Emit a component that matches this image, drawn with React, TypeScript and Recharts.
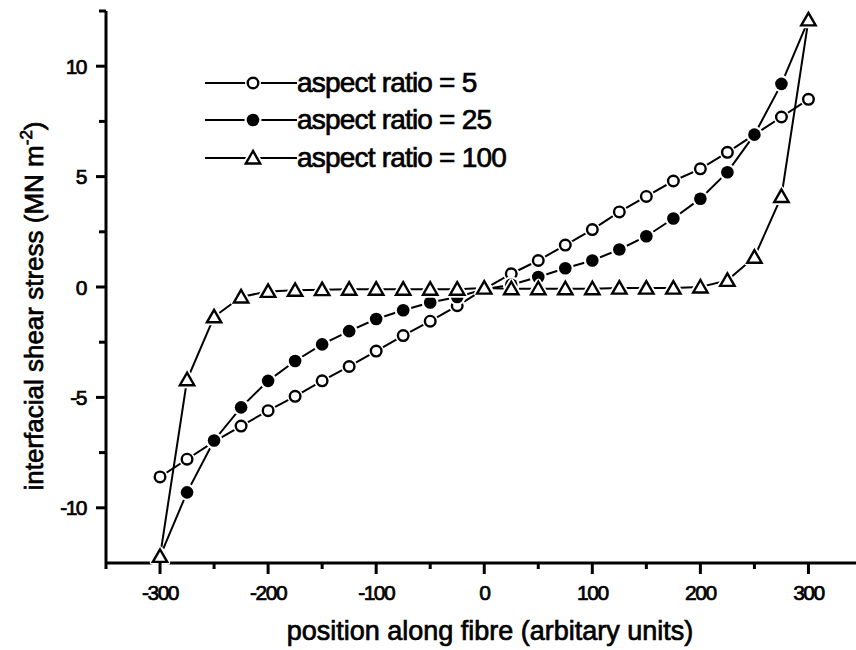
import React from "react"
import { LineChart, Line, XAxis, YAxis, Legend, Label } from "recharts"

// ── data ────────────────────────────────────────────────────
const positions = [
  -300, -275, -250, -225, -200, -175, -150, -125, -100, -75, -50, -25, 0,
  25, 50, 75, 100, 125, 150, 175, 200, 225, 250, 275, 300,
]
const ar5 = [
  -8.6, -7.8, -7.0, -6.3, -5.6, -4.95, -4.25, -3.6, -2.9, -2.2, -1.55, -0.85, -0.1,
  0.6, 1.2, 1.9, 2.6, 3.4, 4.1, 4.8, 5.35, 6.1, 6.9, 7.7, 8.5,
]
const ar25 = [
  -12.2, -9.3, -6.95, -5.45, -4.25, -3.35, -2.6, -2.0, -1.45, -1.05, -0.7, -0.45, -0.1,
  0.1, 0.45, 0.85, 1.2, 1.7, 2.3, 3.1, 4.0, 5.2, 6.9, 9.2, 12.1,
]
const ar100 = [
  -12.2, -4.2, -1.35, -0.45, -0.2, -0.15, -0.12, -0.1, -0.1, -0.1, -0.1, -0.1, -0.05,
  -0.08, -0.08, -0.08, -0.08, -0.05, -0.05, -0.05, 0.0, 0.3, 1.35, 4.1, 12.1,
]

const xMajorTicks = [-300, -200, -100, 0, 100, 200, 300]
const xMinorTicks = [-350, -250, -150, -50, 50, 150, 250]
const yMajorTicks = [-10, -5, 0, 5, 10]
const yMinorTicks = [-7.5, -2.5, 2.5, 7.5, 12.5]

const seriesList = [
  { key: "ar5", label: "aspect ratio = 5", marker: "open" },
  { key: "ar25", label: "aspect ratio = 25", marker: "filled" },
  { key: "ar100", label: "aspect ratio = 100", marker: "triangle" },
]

const data = positions.map((x, i) => ({
  x,
  ar5: ar5[i],
  ar25: ar25[i],
  ar100: ar100[i],
}))

const FONT = "'Liberation Sans', Arial, Helvetica, sans-serif"
// scanned text looks heavy, thicken glyphs a little without widening them
const heavy = { stroke: "#000", strokeWidth: 0.7 }

// ─── markers ────────────────────────────────────────────────
function Marker({ cx, cy, kind }: { cx: number; cy: number; kind: string }) {
  if (cx == null || cy == null) return null
  if (kind === "open") {
    return (
      <g>
        <circle cx={cx} cy={cy} r={8} fill="#fff" />
        <circle cx={cx} cy={cy} r={5.3} fill="#fff" stroke="#000" strokeWidth={2.4} />
      </g>
    )
  }
  if (kind === "filled") {
    return (
      <g>
        <circle cx={cx} cy={cy} r={8.5} fill="#fff" />
        <circle cx={cx} cy={cy} r={6.3} fill="#000" />
      </g>
    )
  }
  const pts = `${cx},${cy - 7} ${cx - 7.2},${cy + 5.5} ${cx + 7.2},${cy + 5.5}`
  return (
    <g>
      <polygon points={pts} fill="#fff" stroke="#fff" strokeWidth={6} strokeLinejoin="round" />
      <polygon points={pts} fill="#fff" stroke="#000" strokeWidth={2.4} strokeLinejoin="miter" />
    </g>
  )
}

// ─── ticks ──────────────────────────────────────────────────
function XTick(props: any) {
  const { x, y, payload } = props
  const major = xMajorTicks.includes(payload.value)
  return (
    <g>
      <line x1={x} y1={y} x2={x} y2={y + (major ? 11 : 6)} stroke="#000" strokeWidth={3} />
      {major && (
        <text
          x={x}
          y={y + 37}
          textAnchor="middle"
          fontFamily={FONT}
          fontSize={21}
          letterSpacing={-1.5}
          fill="#000"
          {...heavy}
        >
          {payload.value}
        </text>
      )}
    </g>
  )
}

function YTick(props: any) {
  const { x, y, payload } = props
  const major = yMajorTicks.includes(payload.value)
  return (
    <g>
      <line x1={x} y1={y} x2={x - (major ? 10 : 7)} y2={y} stroke="#000" strokeWidth={3} />
      {major && (
        <text
          x={x - 20}
          y={y + 7.5}
          textAnchor="end"
          fontFamily={FONT}
          fontSize={21}
          letterSpacing={-1.5}
          fill="#000"
          {...heavy}
        >
          {payload.value}
        </text>
      )}
    </g>
  )
}

function YTitle() {
  const x = 43
  const y = 306
  return (
    <text
      x={x}
      y={y}
      transform={`rotate(-90, ${x}, ${y})`}
      textAnchor="middle"
      fontFamily={FONT}
      fontSize={26}
      fill="#000"
      {...heavy}
    >
      interfacial shear stress (MN m
      <tspan dy={-11} fontSize={17}>-2</tspan>
      <tspan dy={11}>)</tspan>
    </text>
  )
}

function XTitle() {
  return (
    <text x={490} y={640} textAnchor="middle" fontFamily={FONT} fontSize={27} fill="#000" {...heavy}>
      position along fibre (arbitary units)
    </text>
  )
}

function LegendBox() {
  return (
    <div style={{ fontFamily: FONT }}>
      {seriesList.map((s) => (
        <div key={s.key} style={{ display: "flex", alignItems: "center", height: 37.5 }}>
          <svg width={92} height={24} style={{ display: "block" }}>
            <line x1={0} y1={12} x2={92} y2={12} stroke="#000" strokeWidth={2} />
            <Marker cx={48} cy={12} kind={s.marker} />
          </svg>
          <span
            style={{
              fontSize: 28,
              lineHeight: 1,
              letterSpacing: -0.8,
              color: "#000",
              whiteSpace: "nowrap",
              WebkitTextStroke: "0.7px #000",
            }}
          >
            {s.label}
          </span>
        </div>
      ))}
    </div>
  )
}

export default function App() {
  return (
    <div style={{ position: "absolute", left: 0, top: 0, width: 856, height: 650, background: "#fff", fontFamily: FONT }}>
      <LineChart width={856} height={650} data={data} margin={{ top: 11, right: 0, bottom: 0, left: 0 }}>
        <XAxis
          dataKey="x"
          type="number"
          domain={[-350, 344]}
          ticks={[...xMinorTicks, ...xMajorTicks].sort((a, b) => a - b)}
          interval={0}
          height={87}
          tickSize={0}
          tickMargin={0}
          tickLine={false}
          tick={XTick}
          axisLine={{ stroke: "#000", strokeWidth: 3 }}
        >
          <Label content={XTitle} />
        </XAxis>
        <YAxis
          type="number"
          domain={[-12.5, 12.5]}
          ticks={[...yMajorTicks, ...yMinorTicks].sort((a, b) => a - b)}
          interval={0}
          width={106}
          tickSize={0}
          tickMargin={0}
          tickLine={false}
          tick={YTick}
          axisLine={{ stroke: "#000", strokeWidth: 3 }}
        >
          <Label content={YTitle} />
        </YAxis>
        <Legend
          layout="vertical"
          align="center"
          verticalAlign="middle"
          content={LegendBox}
          wrapperStyle={{ left: 205, top: 64, bottom: "auto", width: 360, height: 115 }}
        />
        {seriesList.map((s) => (
          <Line
            key={s.key}
            dataKey={s.key}
            stroke="#000"
            strokeWidth={2}
            isAnimationActive={false}
            dot={(p: any) => <Marker key={`${s.key}-${p.index}`} cx={p.cx} cy={p.cy} kind={s.marker} />}
            activeDot={false}
          />
        ))}
      </LineChart>
    </div>
  )
}
